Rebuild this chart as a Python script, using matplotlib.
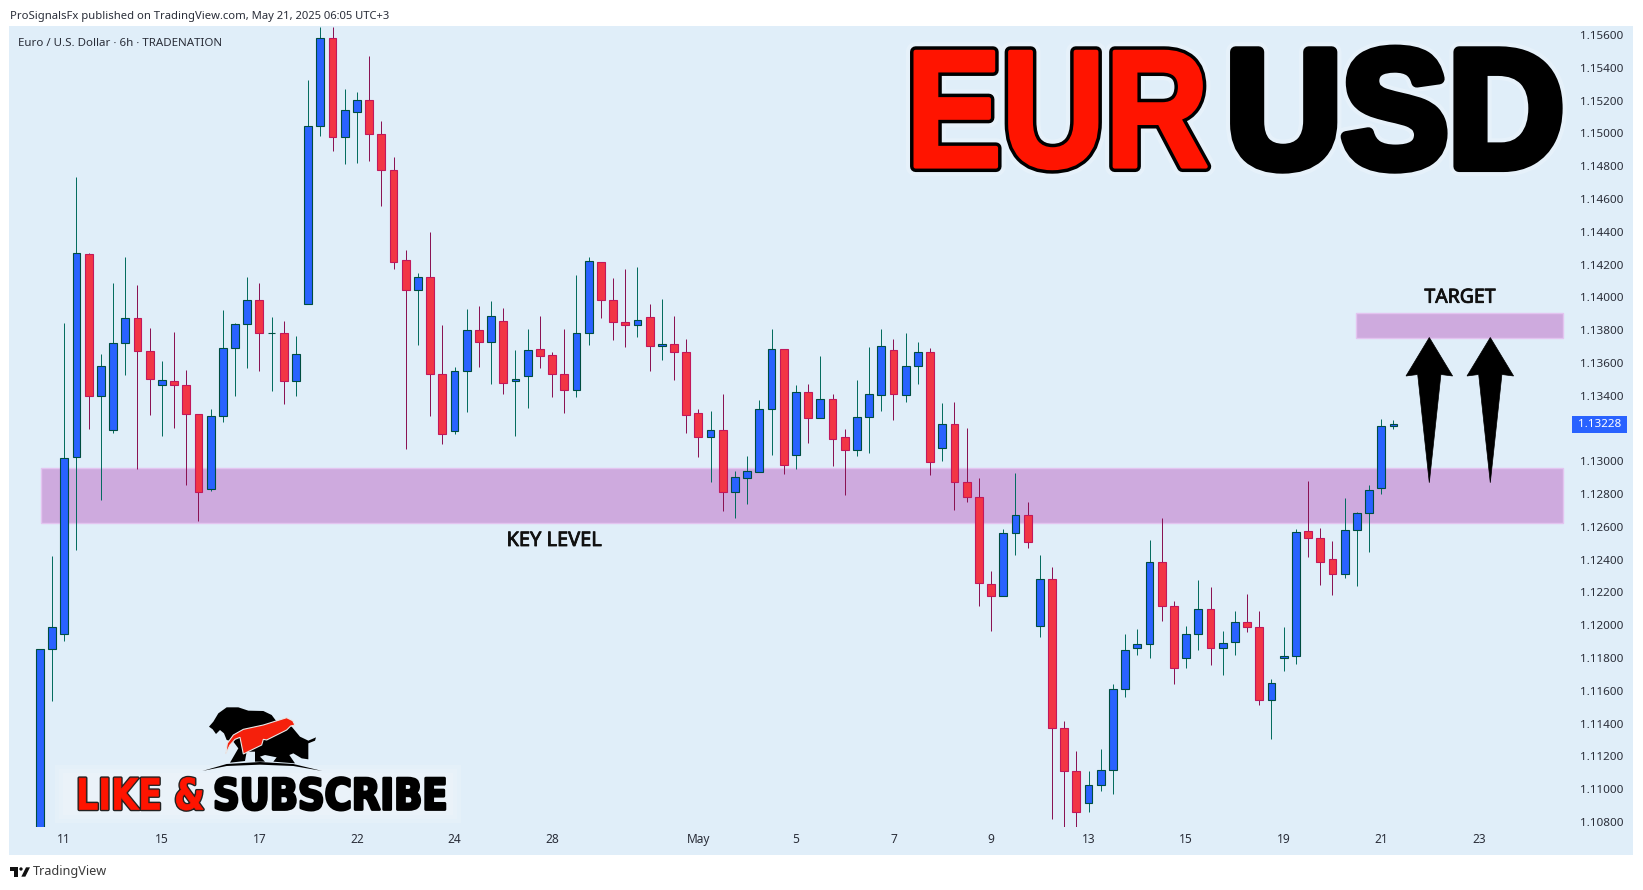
import matplotlib
matplotlib.use('Agg')
import matplotlib.pyplot as plt
import matplotlib.patheffects as pe
from matplotlib.patches import Rectangle, Polygon, Circle
from matplotlib.transforms import Affine2D

# ohlc of the 6h candles
opens = [1.10500, 1.11858, 1.11947, 1.13024, 1.14262, 1.13396, 1.13189, 1.13720, 1.13872, 1.13671,
         1.13463, 1.13488, 1.13463, 1.13287, 1.12829, 1.13274, 1.13689, 1.13835, 1.13982, 1.13780,
         1.13780, 1.13488, 1.13957, 1.15043, 1.15579, 1.14976, 1.15128, 1.15201, 1.14994, 1.14774,
         1.14226, 1.14043, 1.14122, 1.13530, 1.13183, 1.13549, 1.13799, 1.13726, 1.13854, 1.13488,
         1.13518, 1.13683, 1.13646, 1.13530, 1.13433, 1.13780, 1.14213, 1.13982, 1.13848, 1.13829,
         1.13878, 1.13701, 1.13713, 1.13665, 1.13293, 1.13146, 1.13189, 1.12811, 1.12896, 1.12933,
         1.13317, 1.13683, 1.13037, 1.13421, 1.13262, 1.13378, 1.13146, 1.13067, 1.13268, 1.13402,
         1.13677, 1.13402, 1.13579, 1.13665, 1.13079, 1.13226, 1.12873, 1.12780, 1.12249, 1.12177,
         1.12560, 1.12671, 1.11993, 1.12280, 1.11371, 1.11109, 1.10915, 1.11024, 1.11115, 1.11609,
         1.11860, 1.11884, 1.12384, 1.12115, 1.11798, 1.11945, 1.12098, 1.11860, 1.11896, 1.12018,
         1.11988, 1.11543, 1.11798, 1.11814, 1.12573, 1.12530, 1.12402, 1.12314, 1.12579, 1.12684,
         1.12835, 1.13213]
highs = [1.11858, 1.12423, 1.13843, 1.14734, 1.14268, 1.13654, 1.14087, 1.14246, 1.14075, 1.13813,
         1.13612, 1.13788, 1.13557, 1.13287, 1.13319, 1.13923, 1.13843, 1.14124, 1.14087, 1.13880,
         1.13855, 1.13764, 1.15325, 1.15648, 1.15648, 1.15270, 1.15252, 1.15471, 1.15075, 1.14855,
         1.14288, 1.14148, 1.14398, 1.13831, 1.13575, 1.13929, 1.13947, 1.13977, 1.13935, 1.13679,
         1.13807, 1.13886, 1.13666, 1.13807, 1.14136, 1.14246, 1.14213, 1.14118, 1.14173, 1.14185,
         1.13959, 1.13990, 1.13886, 1.13746, 1.13319, 1.13307, 1.13410, 1.12941, 1.13032, 1.13374,
         1.13807, 1.13683, 1.13465, 1.13471, 1.13642, 1.13410, 1.13197, 1.13496, 1.13697, 1.13807,
         1.13746, 1.13782, 1.13727, 1.13691, 1.13355, 1.13362, 1.13202, 1.12898, 1.12331, 1.12587,
         1.12929, 1.12751, 1.12429, 1.12356, 1.11417, 1.11232, 1.11111, 1.11245, 1.11642, 1.11946,
         1.11978, 1.12520, 1.12654, 1.12148, 1.11995, 1.12276, 1.12234, 1.11965, 1.12087, 1.12190,
         1.12087, 1.11671, 1.11988, 1.12587, 1.12879, 1.12593, 1.12514, 1.12776, 1.12690, 1.12856,
         1.13257, 1.13251]
lows = [1.10400, 1.11538, 1.11904, 1.12459, 1.13199, 1.12764, 1.13174, 1.13528, 1.12955, 1.13282,
        1.13156, 1.13205, 1.12857, 1.12637, 1.12817, 1.13241, 1.13400, 1.13571, 1.13552, 1.13430,
        1.13351, 1.13400, 1.13957, 1.14985, 1.14894, 1.14815, 1.14821, 1.14833, 1.14559, 1.14174,
        1.13077, 1.13711, 1.13278, 1.13107, 1.13168, 1.13302, 1.13577, 1.13473, 1.13412, 1.13156,
        1.13327, 1.13571, 1.13394, 1.13296, 1.13394, 1.13711, 1.13876, 1.13741, 1.13699, 1.13760,
        1.13552, 1.13620, 1.13498, 1.13174, 1.13028, 1.12876, 1.12699, 1.12656, 1.12741, 1.12933,
        1.13040, 1.12924, 1.12955, 1.13113, 1.13262, 1.12973, 1.12796, 1.13034, 1.13052, 1.13309,
        1.13254, 1.13363, 1.13473, 1.12919, 1.12999, 1.12705, 1.12753, 1.12119, 1.11968, 1.12177,
        1.12426, 1.12474, 1.11930, 1.10821, 1.10773, 1.10773, 1.10863, 1.10991, 1.10974, 1.11565,
        1.11821, 1.11802, 1.12029, 1.11644, 1.11741, 1.11852, 1.11760, 1.11699, 1.11821, 1.11961,
        1.11516, 1.11308, 1.11724, 1.11766, 1.12419, 1.12243, 1.12182, 1.12291, 1.12237, 1.12448,
        1.12803, 1.13198]
closes = [1.11858, 1.11992, 1.13018, 1.14268, 1.13396, 1.13579, 1.13720, 1.13872, 1.13671, 1.13500,
          1.13494, 1.13463, 1.13287, 1.12811, 1.13274, 1.13689, 1.13835, 1.13982, 1.13780, 1.13780,
          1.13488, 1.13652, 1.15043, 1.15579, 1.14976, 1.15140, 1.15201, 1.14994, 1.14774, 1.14213,
          1.14043, 1.14122, 1.13530, 1.13165, 1.13549, 1.13799, 1.13726, 1.13884, 1.13476, 1.13500,
          1.13677, 1.13640, 1.13530, 1.13433, 1.13780, 1.14220, 1.13982, 1.13848, 1.13829, 1.13860,
          1.13701, 1.13713, 1.13665, 1.13280, 1.13146, 1.13189, 1.12811, 1.12902, 1.12939, 1.13317,
          1.13683, 1.12976, 1.13421, 1.13262, 1.13378, 1.13134, 1.13067, 1.13268, 1.13409, 1.13701,
          1.13409, 1.13579, 1.13665, 1.12995, 1.13226, 1.12873, 1.12780, 1.12255, 1.12177, 1.12560,
          1.12671, 1.12505, 1.12280, 1.11371, 1.11109, 1.10859, 1.11024, 1.11115, 1.11609, 1.11848,
          1.11884, 1.12384, 1.12115, 1.11737, 1.11945, 1.12098, 1.11859, 1.11890, 1.12018, 1.11988,
          1.11543, 1.11646, 1.11814, 1.12566, 1.12530, 1.12384, 1.12314, 1.12579, 1.12684, 1.12823,
          1.13213, 1.13228]

price_ticks = [1.108 + 0.002 * i for i in range(25)]
time_tick_bars = [2, 10, 18, 26, 34, 42, 54, 62, 70, 78, 86, 94, 102, 110, 118]
time_tick_labels = ['11', '15', '17', '22', '24', '28', 'May', '5', '7', '9', '13', '15', '19', '21', '23']

key_zone = (1.12622, 1.12957)
target_zone = (1.13750, 1.13902)
last_price = 1.13228

W, H = 1643, 890
BG = '#E0EEF9'
UI_FONT = ['Noto Sans', 'DejaVu Sans']


class SqueezedStroke(pe.Stroke):
    # stroke that also narrows the text horizontally about x0 (pixels)
    def __init__(self, x0, sx, **kwargs):
        super().__init__(**kwargs)
        self.x0 = x0
        self.sx = sx

    def _offset_transform(self, renderer):
        return Affine2D().translate(-self.x0, 0).scale(self.sx, 1).translate(self.x0, 0)


fig = plt.figure(figsize=(W / 100, H / 100), dpi=100, facecolor='white')
px = Affine2D().scale(1 / W, -1 / H).translate(0, 1) + fig.transFigure
logo = Affine2D().scale(1 / 3).translate(0, 680) + px

fig.add_artist(Rectangle((9.3, 26), 1633.3 - 9.3, 855 - 26, transform=px, fc=BG, ec='none', zorder=0))

ax = fig.add_axes([9.3 / W, (H - 826.7) / H, (1570 - 9.3) / W, (826.7 - 26) / H])
ax.patch.set_alpha(0)
ax.set_xlim(-2.51, 125.48)
ax.set_ylim(1.107719, 1.156543)
for s in ax.spines.values():
    s.set_visible(False)

# zones sit under the candles
for low, high, start in [(key_zone[0], key_zone[1], 0.07), (target_zone[0], target_zone[1], 107.96)]:
    ax.add_patch(Rectangle((start, low), 124.9 - start, high - low, fc='#CEAADE', ec='#E3C4F0', lw=1, zorder=1))

# candles
for i in range(len(opens)):
    up = closes[i] >= opens[i]
    wick = '#00695C' if up else '#880E4F'
    ax.vlines(i, lows[i], highs[i], color=wick, lw=0.7, zorder=2)
    ax.bar(i, abs(closes[i] - opens[i]), bottom=min(opens[i], closes[i]), width=0.64,
           color='#2962FF' if up else '#F23645', edgecolor='#004D40' if up else '#C2185B',
           linewidth=0.8, zorder=3)

ax.set_yticks(price_ticks)
ax.set_yticklabels(['%.5f' % p for p in price_ticks], family=UI_FONT, fontsize=8.4, color='#2A2E39')
ax.yaxis.tick_right()
ax.tick_params(axis='y', length=0, pad=7.4)
ax.set_xticks(time_tick_bars)
ax.set_xticklabels(time_tick_labels, family=UI_FONT, fontsize=8.6, color='#2A2E39')
ax.get_xticklabels()[6].set_fontweight('bold')
ax.tick_params(axis='x', length=0, pad=4.5)

# last price tag
fig.add_artist(Rectangle((1572, 416), 55, 16.7, transform=px, fc='#2962FF', ec='none', zorder=5))
fig.text(1599.5, 424.6, '%.5f' % last_price, transform=px, family=UI_FONT, fontsize=8.4, fontweight='bold',
         color='white', ha='center', va='center', zorder=6)

# arrows
for cx in [1429.3, 1490.3]:
    fig.add_artist(Polygon([(cx, 337.5), (cx + 23.3, 376), (cx + 11.6, 374.5), (cx, 482.7),
                            (cx - 11.6, 374.5), (cx - 23.3, 376)], closed=True, transform=px,
                           fc='black', ec='black', lw=0.5, zorder=5))

# headline
letter_font = dict(family='Liberation Sans', fontweight='bold', fontsize=120, transform=px, va='baseline', zorder=5)
eur_x, usd_x = 906, 1226
eur_sx, usd_sx = 0.86, 0.96
fig.text(eur_x, 166.5, 'EUR', color='#FF1400', **letter_font).set_path_effects([
    SqueezedStroke(eur_x, eur_sx, linewidth=14, foreground='white', alpha=0.2),
    SqueezedStroke(eur_x, eur_sx, linewidth=8, foreground='black'),
    SqueezedStroke(eur_x, eur_sx, linewidth=3, foreground='#FF1400')])
fig.text(usd_x, 166.5, 'USD', color='black', **letter_font).set_path_effects([
    SqueezedStroke(usd_x, usd_sx, linewidth=14, foreground='white', alpha=0.2),
    SqueezedStroke(usd_x, usd_sx, linewidth=8, foreground='black')])

# annotations
ax_font = dict(family=UI_FONT, transform=px, color='#101010', ha='center', va='center', zorder=6)
bolder = [pe.withStroke(linewidth=0.6, foreground='#101010')]
fig.text(554.6, 541, 'KEY LEVEL', fontsize=14.4, path_effects=bolder, **ax_font)
fig.text(1460, 297.7, 'TARGET', fontsize=14, path_effects=bolder, **ax_font)

# header, legend, footer
fig.text(10, 16.5, 'ProSignalsFx published on TradingView.com, May 21, 2025 06:05 UTC+3', transform=px,
         family=UI_FONT, fontsize=8.1, color='#2A2E39', va='center')
fig.text(18, 43.7, 'Euro / U.S. Dollar · 6h · TRADENATION', transform=px, family=UI_FONT, fontsize=8.3,
         color='#2A2E39', va='center')
fig.text(33, 872, 'TradingView', transform=px, family=UI_FONT, fontsize=9.1, color='#3A3A3A', va='center')
for pts in [[(30, 562), (55, 562), (55, 590), (42, 590), (42, 572), (30, 572)],
            [(78, 562), (90, 562), (76, 590), (64, 590)]]:
    fig.add_artist(Polygon(pts, closed=True, transform=logo, fc='#111111', ec='none'))
fig.add_artist(Circle((63, 567), 5, transform=logo, fc='#111111', ec='none'))

# like and subscribe badge, soft edged backdrop
for grow in [8, 4, 0]:
    fig.add_artist(Rectangle((63 - grow, 773 - grow), 390 + 2 * grow, 42 + 2 * grow, transform=px,
                             fc='white', alpha=0.13, ec='none', zorder=4))
bear_bull = [(627, 140), (640, 125), (655, 100), (680, 82), (715, 82), (745, 92), (790, 93), (815, 105), (830, 125),
             (875, 140), (900, 170), (925, 182), (948, 172), (945, 182), (925, 190), (925, 215), (925, 238),
             (905, 235), (880, 220), (868, 225), (885, 250), (820, 245), (830, 232), (795, 225), (780, 230),
             (795, 245), (765, 245), (765, 215), (740, 215), (735, 243), (690, 248), (715, 205), (700, 185),
             (680, 180), (672, 160), (660, 150), (648, 162), (638, 148)]
red_arrow = [(677, 222), (682, 190), (700, 165), (730, 148), (790, 135), (860, 113), (878, 122), (885, 135),
             (872, 138), (860, 150), (800, 180), (790, 178), (785, 195), (730, 222), (720, 172), (705, 178), (690, 195)]
base_arc = [(607, 273), (680, 252), (780, 246), (880, 252), (967, 273), (880, 258), (780, 254), (680, 258)]
fig.add_artist(Polygon(bear_bull, closed=True, transform=logo, fc='black', ec='none', zorder=4))
fig.add_artist(Polygon(red_arrow, closed=True, transform=logo, fc='#F5200C', ec='#E8E8E8', lw=0.8, zorder=4))
fig.add_artist(Polygon(base_arc, closed=True, transform=logo, fc='black', ec='none', zorder=4))

badge_font = dict(family='DejaVu Sans', fontweight='bold', fontsize=31, transform=px, va='baseline', zorder=5)
like_x, sub_x = 76, 213
like_sx, sub_sx = 0.81, 0.86
fig.text(like_x, 809.5, 'LIKE &', color='#FF1400', **badge_font).set_path_effects([
    SqueezedStroke(like_x, like_sx, linewidth=2.5, foreground='#222222'),
    SqueezedStroke(like_x, like_sx, linewidth=0.5, foreground='#FF1400')])
fig.text(sub_x, 809.5, 'SUBSCRIBE', color='black', **badge_font).set_path_effects([
    SqueezedStroke(sub_x, sub_sx, linewidth=2, foreground='black')])

fig.savefig('out.png', dpi=100, facecolor='white')
